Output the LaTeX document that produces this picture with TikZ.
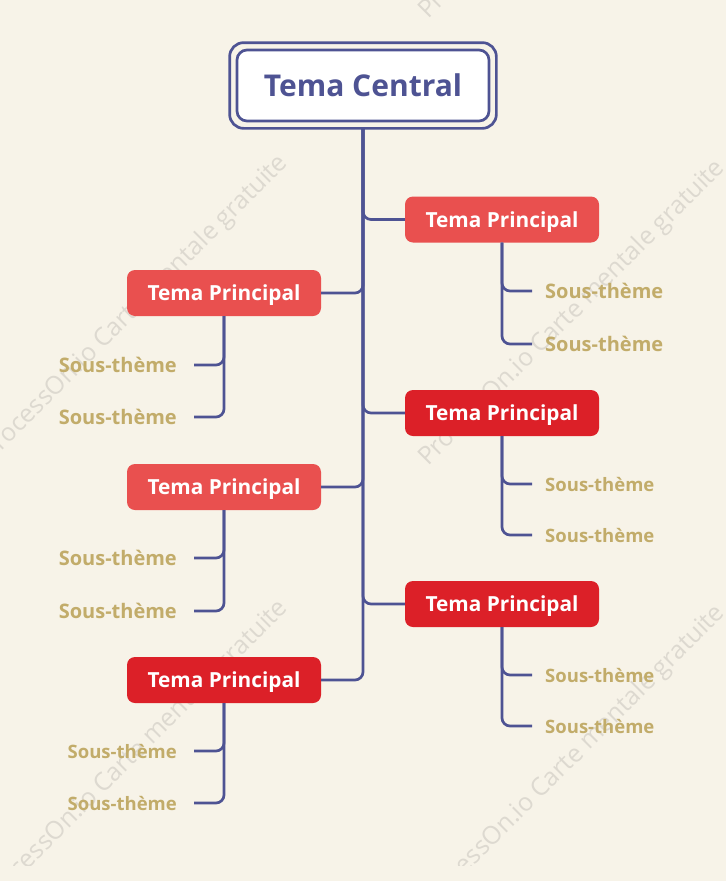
\documentclass[tikz,border=0pt]{standalone}
\usepackage{fontspec}
\setmainfont{Open Sans}
\usetikzlibrary{calc}
\definecolor{bg}{HTML}{F7F3E8}
\definecolor{navy}{HTML}{4E5393}
\definecolor{redA}{HTML}{E9504F}
\definecolor{redB}{HTML}{DC2028}
\definecolor{gold}{HTML}{C2AC6A}
\definecolor{wm}{HTML}{DDD9D0}
\begin{document}
\begin{tikzpicture}[x=1pt,y=-1pt,
 conn/.style={draw=navy,line width=2.7pt,rounded corners=8pt},
 mainbox/.style={rounded corners=8pt, minimum width=194pt, minimum height=46pt, inner sep=0pt, text depth=0pt, text=white, font=\bfseries\fontsize{20.8}{24}\selectfont},
 boxA/.style={mainbox, fill=redA},
 boxB/.style={mainbox, fill=redB},
 subbig/.style={text=gold, inner ysep=0pt, font=\bfseries\fontsize{20}{23}\selectfont},
 subsmall/.style={text=gold, inner ysep=0pt, font=\bfseries\fontsize{18.5}{22}\selectfont},
 subR/.style={anchor=west, inner xsep=13pt},
 subL/.style={anchor=east, inner xsep=17pt},
 wmark/.style={text=wm, rotate=45, anchor=base west, inner sep=0pt, font=\fontsize{25}{28}\selectfont}
]
\useasboundingbox (0,0) rectangle (726,881);
\fill[bg] (0,0) rectangle (726,881);
% watermark
\begin{scope}
\clip (0,0) rectangle (726,865);
\node[wmark] (w1) at (428,20) {ProcessOn.io Carte mentale gratuite};
\node[wmark] (w2) at (-9,462) {ProcessOn.io Carte mentale gratuite};
\node[wmark] (w3) at (428,467) {ProcessOn.io Carte mentale gratuite};
\node[wmark] (w4) at (-9,907) {ProcessOn.io Carte mentale gratuite};
\node[wmark] (w5) at (428,912) {ProcessOn.io Carte mentale gratuite};
\end{scope}
% central
\node[draw=navy, line width=2.7pt, fill=white, rounded corners=10pt, minimum width=252pt, minimum height=71pt, inner sep=0pt, text depth=0pt, text=navy, font=\bfseries\fontsize{30}{36}\selectfont] (C) at (363,85.5) {Tema Central};
\draw[navy, line width=2.7pt, rounded corners=14pt] ($(C.north west)+(-6,-6)$) rectangle ($(C.south east)+(6,6)$);
\coordinate (T) at ($(C.south)+(0,6)$);
% main topics
\node[boxA] (R1) at (502,219.5) {Tema Principal};
\node[boxB] (R2) at (502,413) {Tema Principal};
\node[boxB] (R3) at (502,604) {Tema Principal};
\node[boxA] (L1) at (224,293) {Tema Principal};
\node[boxA] (L2) at (224,487) {Tema Principal};
\node[boxB] (L3) at (224,680) {Tema Principal};
% subtopics
\node[subbig,subR] (r11) at (532,291) {Sous-thème};
\node[subbig,subR] (r12) at (532,344) {Sous-thème};
\node[subsmall,subR] (r21) at (532,484) {Sous-thème};
\node[subsmall,subR] (r22) at (532,535) {Sous-thème};
\node[subsmall,subR] (r31) at (532,675) {Sous-thème};
\node[subsmall,subR] (r32) at (532,726) {Sous-thème};
\node[subbig,subL] (l11) at (194,365) {Sous-thème};
\node[subbig,subL] (l12) at (194,417) {Sous-thème};
\node[subbig,subL] (l21) at (194,558) {Sous-thème};
\node[subbig,subL] (l22) at (194,611) {Sous-thème};
\node[subsmall,subL] (l31) at (194,751) {Sous-thème};
\node[subsmall,subL] (l32) at (194,803) {Sous-thème};
% connectors
\foreach \n in {R1,R2,R3}{\draw[conn] (T) |- (\n.west);}
\foreach \n in {L1,L2,L3}{\draw[conn] (T) |- (\n.east);}
\draw[conn] (R1.south) |- (r11.west);
\draw[conn] (R1.south) |- (r12.west);
\draw[conn] (R2.south) |- (r21.west);
\draw[conn] (R2.south) |- (r22.west);
\draw[conn] (R3.south) |- (r31.west);
\draw[conn] (R3.south) |- (r32.west);
\draw[conn] (L1.south) |- (l11.east);
\draw[conn] (L1.south) |- (l12.east);
\draw[conn] (L2.south) |- (l21.east);
\draw[conn] (L2.south) |- (l22.east);
\draw[conn] (L3.south) |- (l31.east);
\draw[conn] (L3.south) |- (l32.east);
\end{tikzpicture}
\end{document}
